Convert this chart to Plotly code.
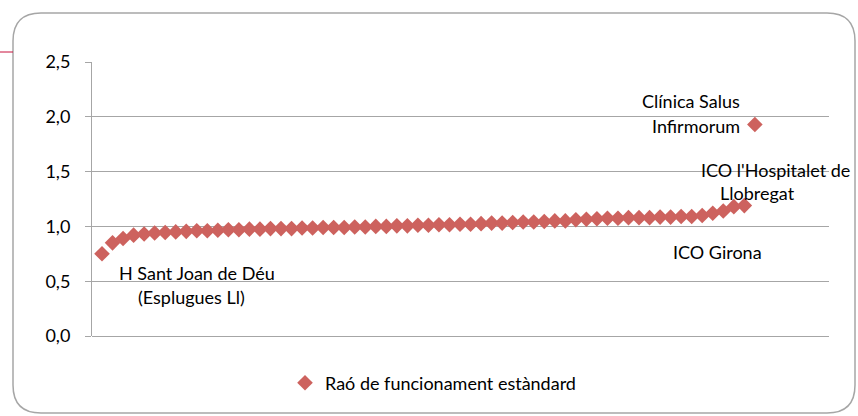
import plotly.graph_objects as go

# ---- data ----
hospital_index = list(range(1, 64))
rfe_values = [
    0.75, 0.85, 0.89, 0.92, 0.93, 0.94, 0.945, 0.95, 0.955, 0.96,
    0.96, 0.965, 0.97, 0.97, 0.975, 0.975, 0.98, 0.98, 0.98, 0.985,
    0.985, 0.99, 0.99, 0.99, 0.995, 0.995, 1.00, 1.00, 1.005, 1.005,
    1.01, 1.01, 1.015, 1.015, 1.02, 1.02, 1.025, 1.03, 1.03, 1.035,
    1.04, 1.04, 1.045, 1.05, 1.05, 1.06, 1.065, 1.07, 1.075, 1.075,
    1.08, 1.08, 1.08, 1.085, 1.085, 1.09, 1.09, 1.10, 1.12, 1.14,
    1.18, 1.19, 1.93,
]
series_name = "Raó de funcionament estàndard"
y_ticks = [0.0, 0.5, 1.0, 1.5, 2.0, 2.5]

# ---- layout geometry (pixels) ----
W, H = 858, 416
L, R, T, B = 92, 829, 62, 336


def px(x):
    return (x - L) / (R - L)


def py(y):
    return (B - y) / (B - T)


FONT = "Lato"
FS = 18
GRAY = "#a6a6a6"
MARK = "#cd625e"

fig = go.Figure()
fig.add_trace(go.Scatter(
    x=hospital_index, y=rfe_values, mode="markers", name=series_name,
    marker=dict(symbol="diamond", size=12, color=MARK, line=dict(width=0)),
    showlegend=True,
))

# rounded frame
x0, y0, x1, y1, r = 13, 13, 855, 413, 28
path = (
    f"M {px(x0+r)},{py(y0)} L {px(x1-r)},{py(y0)} Q {px(x1)},{py(y0)} {px(x1)},{py(y0+r)} "
    f"L {px(x1)},{py(y1-r)} Q {px(x1)},{py(y1)} {px(x1-r)},{py(y1)} "
    f"L {px(x0+r)},{py(y1)} Q {px(x0)},{py(y1)} {px(x0)},{py(y1-r)} "
    f"L {px(x0)},{py(y0+r)} Q {px(x0)},{py(y0)} {px(x0+r)},{py(y0)} Z"
)
shapes = [
    dict(type="path", path=path, xref="paper", yref="paper",
         line=dict(color=GRAY, width=1.5), fillcolor="rgba(0,0,0,0)", layer="below"),
    dict(type="line", xref="paper", yref="paper", x0=px(0), x1=px(13), y0=py(52), y1=py(52),
         line=dict(color="#c8103c", width=1)),
]

def ann(text, xc, yc):
    return dict(text=text, x=px(xc), y=py(yc), xref="paper", yref="paper",
                showarrow=False, xanchor="center", yanchor="middle",
                font=dict(family=FONT, size=FS, color="#000000"))

annotations = [
    ann("Clínica Salus", 691, 101),
    ann("Infirmorum", 696, 126),
    ann("ICO l'Hospitalet de", 775, 170),
    ann("Llobregat", 757, 193),
    ann("ICO Girona", 717, 252),
    ann("H Sant Joan de Déu", 197, 273),
    ann("(Esplugues Ll)", 191, 297),
]

step = 10.53
first_px = 102
xmin = 1 - (first_px - L) / step
xmax = 1 + (R - first_px) / step

fig.update_layout(
    width=W, height=H,
    margin=dict(l=L, r=W - R, t=T, b=H - B),
    paper_bgcolor="white", plot_bgcolor="white",
    separators=", ",
    font=dict(family=FONT, size=FS, color="#000000"),
    shapes=shapes, annotations=annotations,
    showlegend=True,
    legend=dict(orientation="h", x=px(433), y=py(383), xanchor="center", yanchor="middle",
                font=dict(family=FONT, size=FS), itemwidth=30,
                bgcolor="rgba(0,0,0,0)"),
    xaxis=dict(range=[xmin, xmax], showgrid=False, zeroline=False, showticklabels=False,
               showline=False, ticks=""),
    yaxis=dict(range=[0, 2.5], tickvals=y_ticks, tickformat=".1f", showgrid=True,
               gridcolor=GRAY, gridwidth=1, zeroline=True, zerolinecolor=GRAY, zerolinewidth=1,
               showline=True, linecolor=GRAY, linewidth=1, ticks="outside", ticklen=6,
               tickcolor=GRAY, ticklabelstandoff=11,
               tickfont=dict(family=FONT, size=FS, color="#000000")),
)

fig.write_html("out.html", config={"displayModeBar": False},
               post_script="document.body.style.margin='0';document.body.style.overflow='hidden';")
